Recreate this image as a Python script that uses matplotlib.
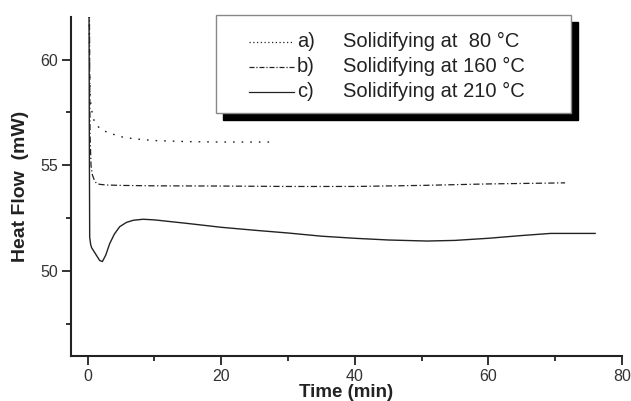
import matplotlib
matplotlib.use('Agg')
import matplotlib.pyplot as plt
from matplotlib.patches import Rectangle
from matplotlib.ticker import MultipleLocator

plt.rcParams['font.family'] = ['Liberation Sans', 'DejaVu Sans']

# curve a) solidifying at 80 C
time_a = [0.2, 0.3, 0.4, 0.6, 1.0, 1.5, 2.0, 3.0, 4.0, 5.0, 7.0, 10.0, 15.0, 20.0, 27.3]
flow_a = [63.0, 59.5, 58.1, 57.6, 57.05, 56.85, 56.7, 56.55, 56.45, 56.35, 56.25, 56.17, 56.12, 56.1, 56.1]

# curve b) solidifying at 160 C
time_b = [0.25, 0.35, 0.5, 0.7, 1.0, 1.3, 1.8, 2.8, 5, 10, 20, 30, 40, 50, 60, 71.5]
flow_b = [63.0, 56.5, 55.0, 54.55, 54.3, 54.15, 54.1, 54.07, 54.05, 54.03, 54.02, 54.0, 54.0, 54.05, 54.12, 54.17]

# curve c) solidifying at 210 C
time_c = [0.2, 0.25, 0.3, 0.45, 0.6, 0.9, 1.3, 1.8, 2.2, 2.7, 3.3, 4.0, 4.8, 5.8, 6.8, 8.3,
          10, 15, 20, 25, 30, 35, 40, 45, 50.8, 55, 60, 65, 69.3, 76]
flow_c = [63.0, 56.0, 51.6, 51.25, 51.1, 50.95, 50.75, 50.5, 50.45, 50.75, 51.3, 51.75, 52.1, 52.3, 52.4, 52.45,
          52.42, 52.25, 52.07, 51.93, 51.8, 51.65, 51.55, 51.47, 51.42, 51.45, 51.55, 51.68, 51.78, 51.78]

letters = ['a)', 'b)', 'c)']
labels = ['Solidifying at  80 °C', 'Solidifying at 160 °C', 'Solidifying at 210 °C']

ink = '#222222'
styles = [(0, (1.2, 5)), (0, (5, 2, 1, 2)), '-']

fig = plt.figure(figsize=(6.31, 4.01), dpi=100)
ax = fig.add_axes([0.1125, 0.113, 0.873, 0.844])

ax.plot(time_a, flow_a, color=ink, lw=1.0, linestyle=styles[0])
ax.plot(time_b, flow_b, color=ink, lw=0.9, linestyle=styles[1])
ax.plot(time_c, flow_c, color=ink, lw=1.0, linestyle=styles[2])

ax.set_xlim(-2.5, 80)
ax.set_ylim(46, 62)
ax.set_xticks([0, 20, 40, 60, 80])
ax.set_yticks([50, 55, 60])
ax.xaxis.set_minor_locator(MultipleLocator(10))
ax.yaxis.set_minor_locator(MultipleLocator(2.5))
ax.spines['top'].set_visible(False)
ax.spines['right'].set_visible(False)
for s in ['left', 'bottom']:
    ax.spines[s].set_linewidth(1.5)
    ax.spines[s].set_color(ink)
ax.tick_params(which='major', direction='out', length=6.5, width=1.3, color=ink,
               labelsize=11.5, labelcolor='#333333', pad=3)
ax.tick_params(which='minor', direction='out', length=3.6, width=1.3, color=ink)

ax.set_xlabel('Time (min)', fontsize=13.5, fontweight='bold', color='#222222', labelpad=0)
ax.set_ylabel('Heat Flow  (mW)', fontsize=14, fontweight='bold', color='#222222', labelpad=8)

# legend box with black drop shadow
x0, x1, y0, y1 = 0.264, 0.907, 0.716, 1.007
ax.add_patch(Rectangle((x0 + 0.0127, y0 - 0.0207), x1 - x0, y1 - y0, transform=ax.transAxes,
                       facecolor='black', edgecolor='black', clip_on=False, zorder=5))
ax.add_patch(Rectangle((x0, y0), x1 - x0, y1 - y0, transform=ax.transAxes,
                       facecolor='white', edgecolor='#888888', lw=1.0, clip_on=False, zorder=6))
rows = [0.928, 0.854, 0.780]
for i in range(3):
    ax.plot([0.324, 0.405], [rows[i], rows[i]], transform=ax.transAxes, color=ink,
            lw=0.9, linestyle=[(0, (1, 2)), (0, (4, 1.5, 1, 1.5)), '-'][i], clip_on=False, zorder=7)
    ax.text(0.41, rows[i], letters[i], transform=ax.transAxes, fontsize=14.5, color='#222222',
            va='center', ha='left', zorder=7)
    ax.text(0.494, rows[i], labels[i], transform=ax.transAxes, fontsize=14.5, color='#222222',
            va='center', ha='left', zorder=7)

fig.savefig('out.png', dpi=100)
